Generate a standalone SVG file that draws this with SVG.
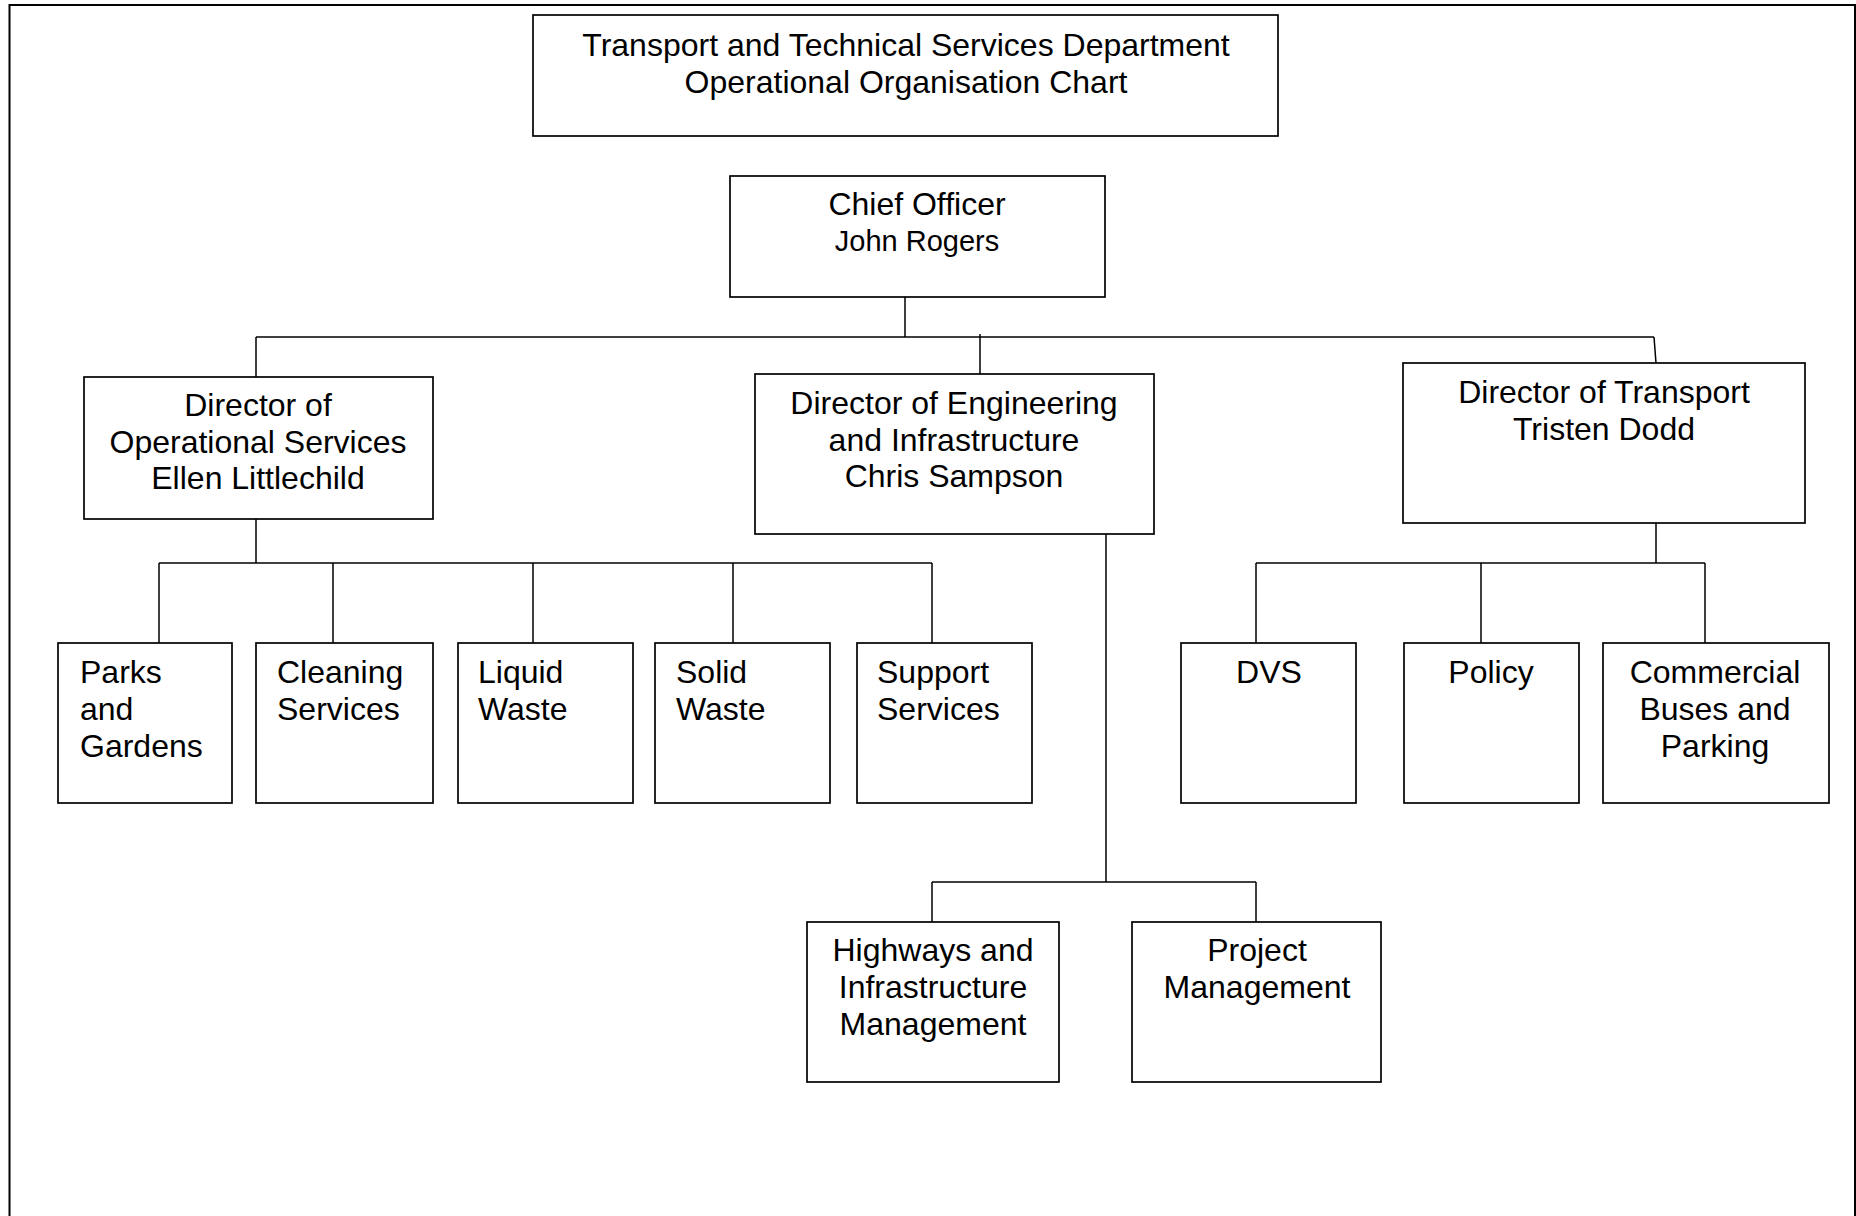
<svg xmlns="http://www.w3.org/2000/svg" width="1856" height="1216" viewBox="0 0 1856 1216">
<style>
.box{fill:#fff;stroke:#000;stroke-width:1.7}
.con{fill:none;stroke:#000;stroke-width:1.5}
.t{font-family:"Liberation Sans",Arial,sans-serif;font-size:32px;fill:#000}
.c{text-anchor:middle}
.s{font-size:29px}
</style>
<rect width="1856" height="1216" fill="#fff"/>
<path d="M9.5,1230 V5 H1855 V1230" fill="none" stroke="#000" stroke-width="2"/>
<g id="connectors">
<path class="con" d="M905,297 V337 M256,337 H1654 M256,337 V377 M980,334 V374 M1654,337 L1656,363"/>
<path class="con" d="M256,519 V563 M159,563 H932 M159,563 V643 M333,563 V643 M533,563 V643 M733,563 V643 M932,563 V643"/>
<path class="con" d="M1106,534 V882 M932,882 H1256 M932,882 V922 M1256,882 V922"/>
<path class="con" d="M1656,523 V563 M1256,563 H1705 M1256,563 V643 M1481,563 V643 M1705,563 V643"/>
</g>
<g id="title">
<rect class="box" x="533" y="15" width="745" height="121"/>
<text class="t c" x="906" y="56">Transport and Technical Services Department</text>
<text class="t c" x="906" y="93">Operational Organisation Chart</text>
</g>
<g id="chief">
<rect class="box" x="730" y="176" width="375" height="121"/>
<text class="t c" x="917" y="215">Chief Officer</text>
<text class="t c s" x="917" y="251">John Rogers</text>
</g>
<g id="dir-ops">
<rect class="box" x="84" y="377" width="349" height="142"/>
<text class="t c" x="258" y="416">Director of</text>
<text class="t c" x="258" y="452.5">Operational Services</text>
<text class="t c" x="258" y="489">Ellen Littlechild</text>
</g>
<g id="dir-eng">
<rect class="box" x="755" y="374" width="399" height="160"/>
<text class="t c" x="954" y="414">Director of Engineering</text>
<text class="t c" x="954" y="450.5">and Infrastructure</text>
<text class="t c" x="954" y="487">Chris Sampson</text>
</g>
<g id="dir-transport">
<rect class="box" x="1403" y="363" width="402" height="160"/>
<text class="t c" x="1604" y="403">Director of Transport</text>
<text class="t c" x="1604" y="440">Tristen Dodd</text>
</g>
<g id="parks">
<rect class="box" x="58" y="643" width="174" height="160"/>
<text class="t" x="80" y="683">Parks</text>
<text class="t" x="80" y="720">and</text>
<text class="t" x="80" y="757">Gardens</text>
</g>
<g id="cleaning">
<rect class="box" x="256" y="643" width="177" height="160"/>
<text class="t" x="277" y="683">Cleaning</text>
<text class="t" x="277" y="720">Services</text>
</g>
<g id="liquid">
<rect class="box" x="458" y="643" width="175" height="160"/>
<text class="t" x="478" y="683">Liquid</text>
<text class="t" x="478" y="720">Waste</text>
</g>
<g id="solid">
<rect class="box" x="655" y="643" width="175" height="160"/>
<text class="t" x="676" y="683">Solid</text>
<text class="t" x="676" y="720">Waste</text>
</g>
<g id="support">
<rect class="box" x="857" y="643" width="175" height="160"/>
<text class="t" x="877" y="683">Support</text>
<text class="t" x="877" y="720">Services</text>
</g>
<g id="dvs">
<rect class="box" x="1181" y="643" width="175" height="160"/>
<text class="t c" x="1269" y="683">DVS</text>
</g>
<g id="policy">
<rect class="box" x="1404" y="643" width="175" height="160"/>
<text class="t c" x="1491" y="683">Policy</text>
</g>
<g id="commercial">
<rect class="box" x="1603" y="643" width="226" height="160"/>
<text class="t c" x="1715" y="683">Commercial</text>
<text class="t c" x="1715" y="720">Buses and</text>
<text class="t c" x="1715" y="757">Parking</text>
</g>
<g id="highways">
<rect class="box" x="807" y="922" width="252" height="160"/>
<text class="t c" x="933" y="961">Highways and</text>
<text class="t c" x="933" y="998">Infrastructure</text>
<text class="t c" x="933" y="1035">Management</text>
</g>
<g id="project">
<rect class="box" x="1132" y="922" width="249" height="160"/>
<text class="t c" x="1257" y="961">Project</text>
<text class="t c" x="1257" y="998">Management</text>
</g>
</svg>
